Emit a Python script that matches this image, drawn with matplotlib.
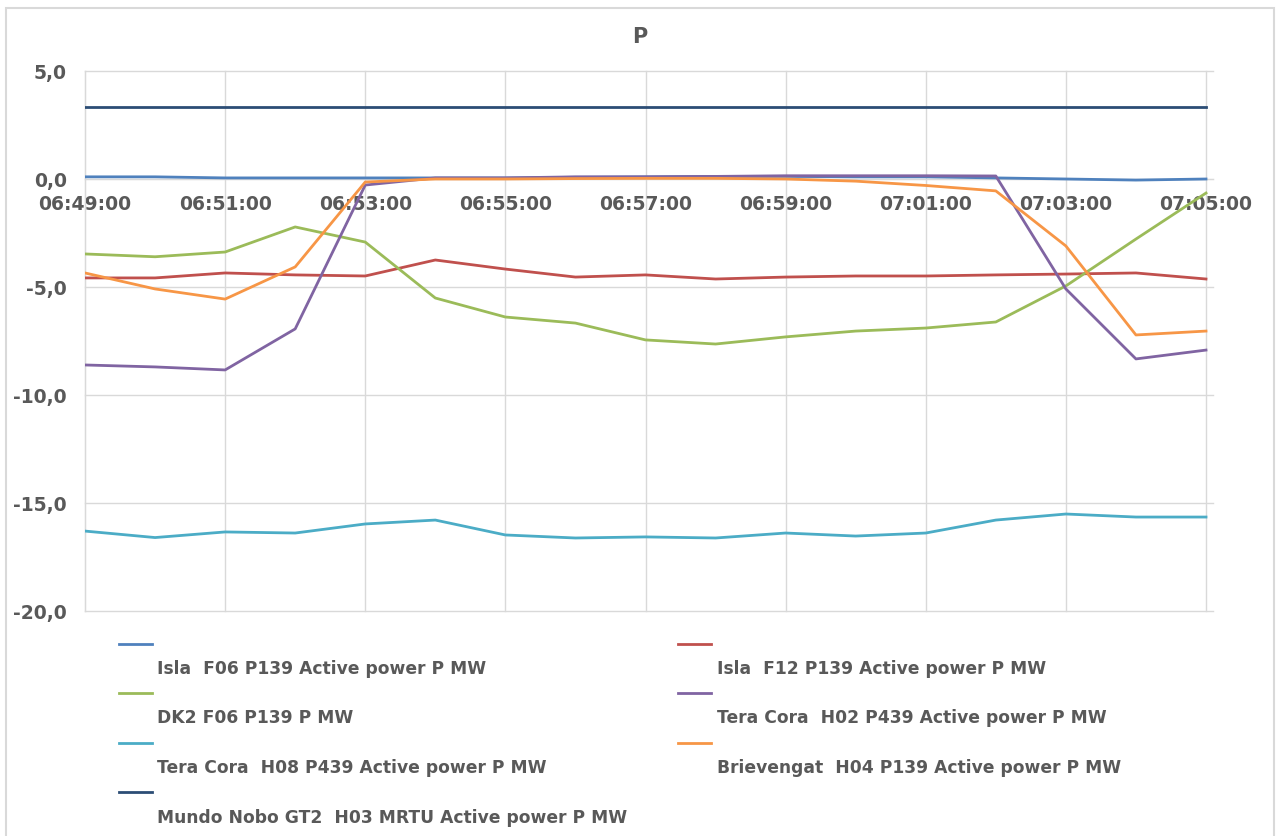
import matplotlib
matplotlib.use("Agg")
import matplotlib.pyplot as plt
from matplotlib.lines import Line2D
from matplotlib.patches import Rectangle
import numpy as np

times = ["06:49:00", "06:50:00", "06:51:00", "06:52:00", "06:53:00", "06:54:00",
         "06:55:00", "06:56:00", "06:57:00", "06:58:00", "06:59:00", "07:00:00",
         "07:01:00", "07:02:00", "07:03:00", "07:04:00", "07:05:00"]

isla_f06 = [0.10, 0.10, 0.05, 0.05, 0.05, 0.05, 0.05, 0.08, 0.10, 0.12, 0.12, 0.10,
            0.10, 0.05, 0.00, -0.05, 0.00]
isla_f12 = [-4.58, -4.58, -4.35, -4.44, -4.49, -3.75, -4.17, -4.54, -4.44, -4.63,
            -4.54, -4.49, -4.49, -4.44, -4.40, -4.35, -4.63]
dk2_f06 = [-3.47, -3.60, -3.38, -2.22, -2.92, -5.51, -6.39, -6.67, -7.45, -7.64,
           -7.31, -7.04, -6.90, -6.62, -4.95, -2.78, -0.65]
tera_h02 = [-8.61, -8.70, -8.84, -6.94, -0.28, 0.05, 0.05, 0.10, 0.10, 0.12,
            0.15, 0.15, 0.15, 0.14, -5.09, -8.33, -7.92]
tera_h08 = [-16.30, -16.60, -16.34, -16.39, -15.97, -15.79, -16.48, -16.62, -16.57,
            -16.62, -16.39, -16.53, -16.39, -15.79, -15.51, -15.65, -15.65]
brievengat = [-4.35, -5.09, -5.56, -4.07, -0.14, 0.00, 0.00, 0.02, 0.03, 0.03,
              0.00, -0.10, -0.30, -0.55, -3.10, -7.22, -7.04]
mundo_nobo = [3.33] * 17

series_names = [
    "Isla  F06 P139 Active power P MW",
    "Isla  F12 P139 Active power P MW",
    "DK2 F06 P139 P MW",
    "Tera Cora  H02 P439 Active power P MW",
    "Tera Cora  H08 P439 Active power P MW",
    "Brievengat  H04 P139 Active power P MW",
    "Mundo Nobo GT2  H03 MRTU Active power P MW",
]
series_values = [isla_f06, isla_f12, dk2_f06, tera_h02, tera_h08, brievengat, mundo_nobo]
colors = ["#4F81BD", "#C0504D", "#9BBB59", "#8064A2", "#4BACC6", "#F79646", "#2C4D75"]

y_ticks = [5, 0, -5, -10, -15, -20]
y_tick_labels = ["5,0", "0,0", "-5,0", "-10,0", "-15,0", "-20,0"]

txt = "#595959"
grid = "#D9D9D9"
W, H = 1277, 837
fig = plt.figure(figsize=(W / 100, H / 100), dpi=100)
fig.patch.set_facecolor("white")

fig.add_artist(Rectangle((6 / W, -0.01), (1274 - 6) / W, (H - 9) / H + 0.01,
                         transform=fig.transFigure, fill=False, edgecolor=grid, lw=1.5))

left, right, top, bottom = 85, 1213, 72, 612
ax = fig.add_axes([left / W, (H - bottom) / H, (right - left) / W, (bottom - top) / H])

x = np.arange(len(times))
for i in range(len(series_values)):
    ax.plot(x, series_values[i], color=colors[i], lw=2.0, solid_joinstyle="round", zorder=3)

ax.set_xlim(0, 16 * (right - left) / (1206 - left))
ax.set_ylim(-20, 5)
ax.set_yticks(y_ticks)
ax.set_yticklabels(y_tick_labels)
ax.set_xticks(x[::2])
ax.set_xticklabels(times[::2])

for s in ["top", "right"]:
    ax.spines[s].set_visible(False)
ax.spines["left"].set_color(grid)
ax.spines["bottom"].set_position(("data", 0))
ax.spines["bottom"].set_color(grid)
ax.grid(True, color=grid, lw=1.0, zorder=0)
for gl in ax.get_xgridlines() + ax.get_ygridlines():
    gl.set_clip_on(False)
ax.set_axisbelow(True)
ax.tick_params(axis="both", length=0)
ax.tick_params(axis="y", pad=13)
ax.tick_params(axis="x", pad=11)
for lab in ax.get_xticklabels() + ax.get_yticklabels():
    lab.set_fontweight("bold")
    lab.set_fontsize(13.5)
    lab.set_color(txt)

fig.text(640 / W, 1 - 37 / H, "P", ha="center", va="center", fontsize=15,
         fontweight="bold", color=txt)

# legend
col_x = [(119, 152, 157), (678, 711, 717)]
row_y = [(645, 669), (694, 718), (744, 768), (793, 818)]
for i, name in enumerate(series_names):
    c, r = i % 2, i // 2
    hx0, hx1, tx = col_x[c]
    hy, ty = row_y[r]
    fig.add_artist(Line2D([hx0 / W, hx1 / W], [1 - hy / H, 1 - hy / H],
                          transform=fig.transFigure, color=colors[i], lw=2.0))
    fig.text(tx / W, 1 - ty / H, name, ha="left", va="center", fontsize=12.3,
             fontweight="bold", color=txt)

fig.savefig("out.png", dpi=100)
